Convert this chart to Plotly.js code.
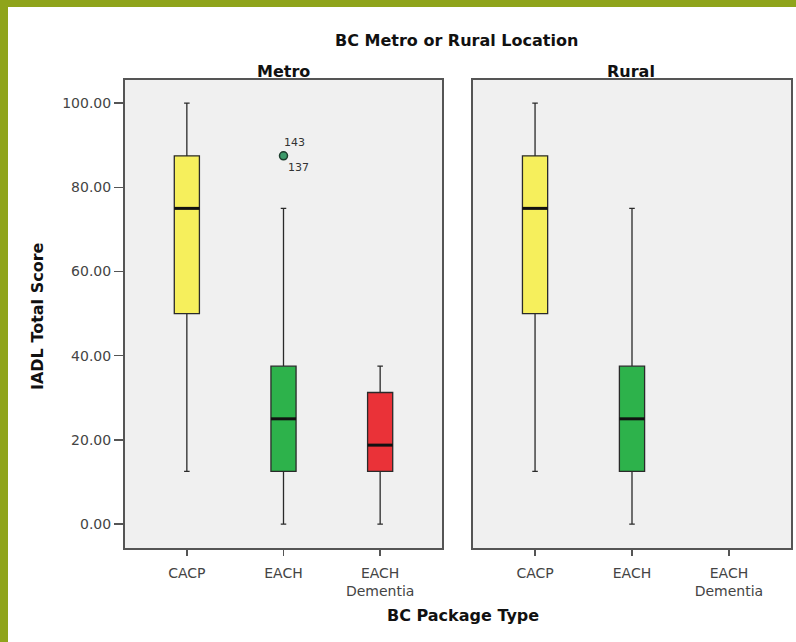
<!DOCTYPE html>
<html>
<head>
<meta charset="utf-8">
<script src="https://cdn.plot.ly/plotly-3.0.1.min.js"></script>
<style>
  html, body { margin: 0; padding: 0; background: #ffffff; }
  #frame { position: absolute; left: 0; top: 0; width: 796px; height: 642px; box-sizing: border-box;
           border-left: 8px solid #8fa41b; border-top: 7px solid #8fa41b; background: #ffffff; }
  #chart { width: 788px; height: 635px; }
</style>
</head>
<body>
<div id="frame"><div id="chart"></div></div>
<script>
// ---- data ----
const categories = ['CACP', 'EACH', 'EACH Dementia'];
const tickLabels = ['CACP', 'EACH', 'EACH<br>Dementia'];
const boxColors = ['#f6ef5c', '#2db24b', '#ea3238'];

const metroLower = [12.5, 0, 0];
const metroQ1 = [50, 12.5, 12.5];
const metroMedian = [75, 25, 18.75];
const metroQ3 = [87.5, 37.5, 31.25];
const metroUpper = [100, 75, 37.5];

const ruralLower = [12.5, 0];
const ruralQ1 = [50, 12.5];
const ruralMedian = [75, 25];
const ruralQ3 = [87.5, 37.5];
const ruralUpper = [100, 75];

const outlierCategory = ['EACH'];
const outlierValue = [87.5];
const outlierIds = ['143', '137'];

const yTicks = [0, 20, 40, 60, 80, 100];

// ---- build ----
const boxWidth = 0.26;
const traces = [];
function addPanel(lower, q1, med, q3, upper, xa, ya) {
  for (let i = 0; i < lower.length; i++) {
    traces.push({
      type: 'box', x: [i], lowerfence: [lower[i]], q1: [q1[i]], median: [med[i]],
      q3: [q3[i]], upperfence: [upper[i]], width: boxWidth, whiskerwidth: 0.22,
      fillcolor: boxColors[i], line: { color: '#2a2a2a', width: 1.3 },
      boxpoints: false, xaxis: xa, yaxis: ya, name: categories[i], hoverinfo: 'y'
    });
    traces.push({
      type: 'scatter', mode: 'lines', x: [i - boxWidth / 2, i + boxWidth / 2], y: [med[i], med[i]],
      line: { color: '#111111', width: 3 }, xaxis: xa, yaxis: ya, hoverinfo: 'skip'
    });
  }
}
addPanel(metroLower, metroQ1, metroMedian, metroQ3, metroUpper, 'x', 'y');
addPanel(ruralLower, ruralQ1, ruralMedian, ruralQ3, ruralUpper, 'x2', 'y2');

traces.push({
  type: 'scatter', mode: 'markers',
  x: outlierCategory.map(c => categories.indexOf(c)), y: outlierValue,
  marker: { symbol: 'circle', size: 8, color: '#3c9a6a', line: { color: '#1d3d2d', width: 1.5 } },
  xaxis: 'x', yaxis: 'y', hoverinfo: 'y'
});

const FONT = 'DejaVu Sans, Arial, sans-serif';
const tickFont = { family: FONT, size: 14, color: '#444444' };
const xCommon = {
  range: [-0.64, 2.64], tickmode: 'array', tickvals: categories.map((c, i) => i), ticktext: tickLabels,
  ticks: 'outside', ticklen: 6, tickwidth: 1.5, tickcolor: '#555555', tickfont: tickFont,
  ticklabelstandoff: 5,
  showgrid: false, zeroline: false, showline: true, mirror: true, linecolor: '#555555', linewidth: 2,
  fixedrange: true
};
const yCommon = {
  range: [-5.7, 105.5], tickmode: 'array', tickvals: yTicks, tickformat: '.2f',
  showgrid: false, zeroline: false, showline: true, mirror: true, linecolor: '#555555', linewidth: 2,
  tickfont: tickFont, fixedrange: true
};

const titleFont = { family: FONT, size: 16, color: '#111111' };
function paperNote(text, px, py, extra) {
  return Object.assign({ text: text, xref: 'paper', yref: 'paper', x: px / 788, y: 1 - py / 635,
    xanchor: 'center', yanchor: 'middle', showarrow: false, font: titleFont }, extra || {});
}
const annotations = [
  paperNote('<b>BC Metro or Rural Location</b>', 449, 33),
  paperNote('<b>Metro</b>', 275, 64),
  paperNote('<b>Rural</b>', 623, 64),
  paperNote('<b>IADL Total Score</b>', 29, 309, { textangle: -90 }),
  paperNote('<b>BC Package Type</b>', 455, 608),
  { text: outlierIds[0], xref: 'x', yref: 'y', x: categories.indexOf(outlierCategory[0]), y: outlierValue[0], xshift: 11, yshift: 13, showarrow: false, font: { family: FONT, size: 11, color: '#333333' } },
  { text: outlierIds[1], xref: 'x', yref: 'y', x: categories.indexOf(outlierCategory[0]), y: outlierValue[0], xshift: 15, yshift: -12, showarrow: false, font: { family: FONT, size: 11, color: '#333333' } }
];

const layout = {
  width: 788, height: 635, margin: { l: 0, r: 0, t: 0, b: 0 },
  paper_bgcolor: '#ffffff', plot_bgcolor: '#f0f0f0', showlegend: false,
  xaxis: Object.assign({}, xCommon, { domain: [117 / 788, 434 / 788], anchor: 'y' }),
  xaxis2: Object.assign({}, xCommon, { domain: [465 / 788, 783 / 788], anchor: 'y2' }),
  yaxis: Object.assign({}, yCommon, { domain: [0.148, 0.885], anchor: 'x', ticks: 'outside', ticklen: 9, tickwidth: 1.5, tickcolor: '#555555' }),
  yaxis2: Object.assign({}, yCommon, { domain: [0.148, 0.885], anchor: 'x2', ticks: '', showticklabels: false }),
  annotations: annotations
};

Plotly.newPlot('chart', traces, layout, { staticPlot: true, displayModeBar: false });
</script>
</body>
</html>
